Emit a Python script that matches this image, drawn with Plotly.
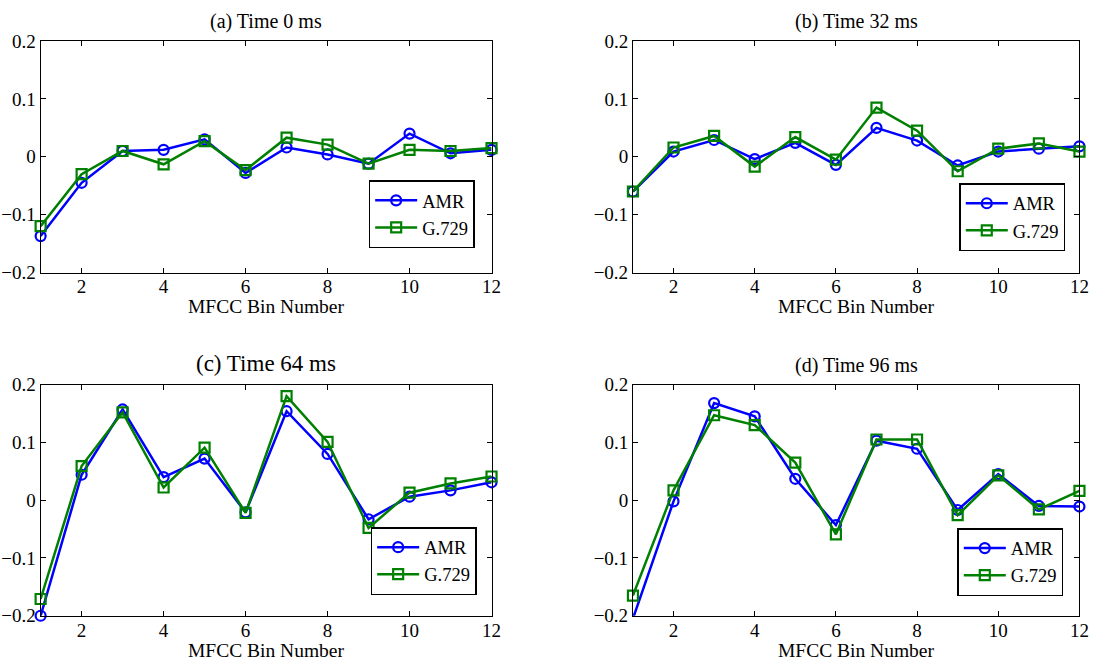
import plotly.graph_objects as go

bins = [1, 2, 3, 4, 5, 6, 7, 8, 9, 10, 11, 12]

amr_0ms = [-0.137, -0.045, 0.010, 0.012, 0.030, -0.028, 0.016, 0.004, -0.012, 0.040, 0.006, 0.012]
g729_0ms = [-0.120, -0.030, 0.010, -0.013, 0.027, -0.023, 0.033, 0.021, -0.012, 0.012, 0.010, 0.015]

amr_32ms = [-0.060, 0.009, 0.029, -0.004, 0.024, -0.014, 0.050, 0.028, -0.015, 0.009, 0.014, 0.018]
g729_32ms = [-0.060, 0.016, 0.036, -0.017, 0.034, -0.005, 0.085, 0.045, -0.025, 0.014, 0.023, 0.009]

amr_64ms = [-0.200, 0.044, 0.157, 0.040, 0.072, -0.021, 0.154, 0.080, -0.033, 0.006, 0.017, 0.031]
g729_64ms = [-0.171, 0.059, 0.152, 0.022, 0.091, -0.022, 0.180, 0.101, -0.048, 0.013, 0.029, 0.041]

amr_96ms = [-0.205, -0.002, 0.168, 0.145, 0.037, -0.043, 0.103, 0.089, -0.017, 0.045, -0.010, -0.011]
g729_96ms = [-0.165, 0.017, 0.147, 0.130, 0.065, -0.059, 0.105, 0.105, -0.026, 0.043, -0.016, 0.016]

titles = ["(a) Time 0 ms", "(b) Time 32 ms", "(c) Time 64 ms", "(d) Time 96 ms"]
series_names = ["AMR", "G.729"]
x_ticks = [2, 4, 6, 8, 10, 12]
y_ticks = [-0.2, -0.1, 0, 0.1, 0.2]
y_ticktext = ["\u22120.2", "\u22120.1", "0", "0.1", "0.2"]
x_title = "MFCC Bin Number"

panels = [(amr_0ms, g729_0ms), (amr_32ms, g729_32ms), (amr_64ms, g729_64ms), (amr_96ms, g729_96ms)]

W, H = 1106, 672
FONT = "Liberation Serif"

# pixel boxes of each plot area (left, right, top, bottom)
boxes = [(41, 496, 32, 271), (638.7, 1089.3, 32, 271),
         (41, 496, 386.7, 625.3), (638.7, 1089.3, 386.7, 625.3)]
legend_pos = [(479, 246), (1075, 249), (481, 604), (1073, 605)]
title_y = [12, 12, 365, 366.5]
title_size = [20, 20, 23, 20]
xtitle_y = [306.5, 306.5, 661, 661]

fig = go.Figure()
colors = ["#0000FF", "#008000"]
symbols = ["circle-open", "square-open"]

layout = dict(width=W, height=H, margin=dict(l=0, r=0, t=0, b=0),
              paper_bgcolor="white", plot_bgcolor="white",
              font=dict(family=FONT, size=19, color="black"),
              annotations=[])

for i, (amr, g729) in enumerate(panels):
    k = "" if i == 0 else str(i + 1)
    l, r, t, b = boxes[i]
    legname = "legend" + k
    for j, ys in enumerate((amr, g729)):
        fig.add_trace(go.Scatter(
            x=bins, y=ys, mode="lines+markers", name=series_names[j],
            line=dict(color=colors[j], width=2.5),
            marker=dict(symbol=symbols[j], size=10, color=colors[j],
                        line=dict(width=2.2, color=colors[j])),
            cliponaxis=False, legend=legname,
            xaxis="x" + k, yaxis="y" + k))
    layout["xaxis" + k] = dict(domain=[l / W, r / W], anchor="y" + k,
                               range=[1, 12], tickmode="array", tickvals=x_ticks,
                               ticks="inside", ticklen=5, tickcolor="black",
                               showline=True, linecolor="black", linewidth=1,
                               mirror="ticks", showgrid=False, zeroline=False,
                               ticklabelstandoff=-3,
                               tickfont=dict(size=19))
    layout["yaxis" + k] = dict(domain=[1 - b / H, 1 - t / H], anchor="x" + k,
                               range=[-0.2, 0.2], tickmode="array", tickvals=y_ticks,
                               ticktext=y_ticktext,
                               ticks="inside", ticklen=5, tickcolor="black",
                               showline=True, linecolor="black", linewidth=1,
                               mirror="ticks", showgrid=False, zeroline=False,
                               tickfont=dict(size=19))
    lx, ly = legend_pos[i]
    layout[legname] = dict(x=lx / W, y=1 - ly / H, xanchor="right", yanchor="bottom",
                           bgcolor="white", bordercolor="black", borderwidth=1.5,
                           font=dict(family=FONT, size=18.5, color="black"),
                           itemwidth=42, tracegroupgap=0)
    layout["annotations"].append(dict(
        text=titles[i], x=(l + r) / 2 / W, y=1 - title_y[i] / H, xref="paper", yref="paper",
        xanchor="center", yanchor="middle", showarrow=False,
        font=dict(family=FONT, size=title_size[i], color="black")))
    layout["annotations"].append(dict(
        text=x_title, x=(l + r) / 2 / W, y=1 - xtitle_y[i] / H, xref="paper", yref="paper",
        xanchor="center", yanchor="middle", showarrow=False,
        font=dict(family=FONT, size=19.5, color="black")))

fig.update_layout(**layout)
fig.write_html("out.html")
